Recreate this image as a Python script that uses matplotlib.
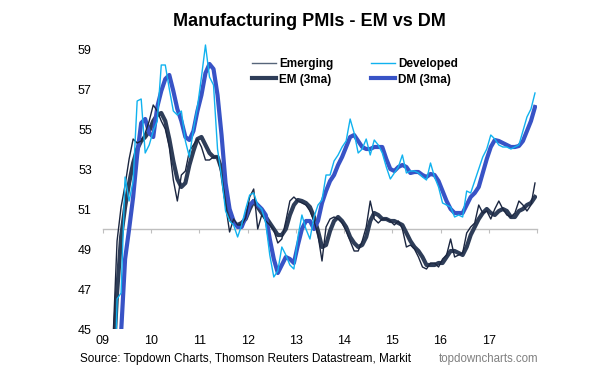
import numpy as np
import matplotlib
matplotlib.use("Agg")
import matplotlib.pyplot as plt

plt.rcParams['font.family'] = ['Liberation Sans', 'DejaVu Sans']

# monthly PMI readings, Jan 2009 - Dec 2017
em = [39.0, 41.0, 44.5, 49.4, 51.1, 52.2, 53.5, 54.5, 54.3, 54.4, 54.8, 55.4,
      56.2, 55.9, 55.4, 55.0, 54.1, 52.45, 51.4, 52.7, 52.9, 53.9, 54.2, 54.5,
      54.1, 53.45, 53.45, 53.6, 53.6, 52.7, 51.2, 49.85, 50.5, 50.2, 50.2, 50.55,
      51.6, 52.0, 50.0, 50.7, 50.4, 50.2, 49.95, 49.3, 49.5, 50.4, 51.4, 51.6,
      51.4, 51.3, 51.2, 50.9, 50.4, 49.7, 48.4, 50.1, 50.5, 50.6, 50.5, 50.3,
      49.9, 49.4, 48.9, 48.9, 49.4, 50.1, 51.4, 50.5, 50.3, 50.5, 50.5, 50.4,
      50.2, 50.4, 50.0, 49.1, 49.2, 49.0, 48.6, 48.1, 48.0, 48.3, 48.3, 48.1,
      48.5, 48.7, 49.5, 48.6, 48.7, 48.8, 49.8, 50.1, 50.3, 51.2, 50.8, 50.9,
      50.5, 51.0, 51.4, 51.0, 50.7, 50.6, 50.8, 51.4, 51.2, 50.9, 51.2, 52.3]

dm = [35.0, 36.5, 38.5, 46.5, 46.8, 52.6, 51.4, 52.4, 56.4, 56.5, 53.8, 54.2,
      54.9, 55.4, 58.2, 58.2, 57.0, 55.9, 55.7, 55.9, 54.4, 53.6, 55.0, 56.1,
      57.6, 59.2, 57.6, 57.2, 54.0, 52.6, 50.9, 50.4, 50.2, 49.6, 50.2, 51.0,
      51.7, 51.8, 51.2, 51.0, 50.3, 48.7, 47.6, 47.9, 49.1, 48.7, 48.2, 48.0,
      49.6, 50.7, 50.0, 49.5, 50.6, 51.2, 51.45, 52.7, 52.7, 53.4, 53.7, 54.1,
      54.4, 55.5, 54.8, 53.8, 54.0, 54.5, 53.7, 54.45, 54.2, 53.8, 53.1, 52.5,
      52.8, 53.1, 53.7, 52.8, 52.9, 52.9, 52.8, 52.6, 52.45, 53.3, 52.6, 52.1,
      51.3, 51.2, 51.1, 50.6, 50.7, 50.6, 51.9, 51.8, 52.4, 53.0, 53.6, 54.0,
      54.7, 54.5, 54.2, 54.1, 54.1, 54.0, 54.1, 54.2, 54.9, 55.6, 56.0, 56.8]

em3 = [37.5, 39.0, 43.0, 46.8, 49.6, 51.1, 52.3, 53.3, 54.0, 54.4, 54.6, 54.9,
       55.4, 55.7, 55.8, 55.4, 54.5, 53.4, 52.5, 52.1, 52.3, 53.2, 53.9, 54.5,
       54.6, 54.2, 53.8, 53.6, 53.6, 53.0, 51.6, 50.7, 50.3, 50.2, 50.3, 50.5,
       51.0, 51.4, 51.1, 50.8, 50.6, 50.3, 50.0, 49.7, 49.7, 50.0, 50.7, 51.2,
       51.45, 51.4, 51.3, 51.1, 50.6, 49.9, 49.1, 49.2, 49.9, 50.4, 50.6, 50.4,
       50.1, 49.6, 49.3, 49.1, 49.2, 49.6, 50.4, 50.8, 50.7, 50.5, 50.5, 50.4,
       50.4, 50.3, 50.2, 49.8, 49.4, 49.1, 48.9, 48.6, 48.2, 48.2, 48.2, 48.3,
       48.3, 48.6, 48.9, 48.9, 48.8, 48.7, 49.1, 49.7, 50.1, 50.5, 50.8, 51.0,
       50.8, 50.7, 50.9, 51.0, 50.9, 50.6, 50.6, 50.9, 51.0, 51.2, 51.3, 51.6]

dm3 = [34.0, 35.5, 37.0, 40.5, 44.8, 48.5, 50.0, 51.6, 53.7, 55.3, 55.5, 54.8,
       54.6, 56.1, 56.9, 57.5, 57.7, 56.9, 56.0, 55.4, 54.6, 54.45, 54.9, 55.9,
       56.7, 57.8, 58.25, 58.0, 56.7, 54.7, 52.3, 51.0, 50.4, 50.1, 50.1, 50.6,
       51.2, 51.4, 51.2, 51.0, 50.7, 49.5, 48.5, 47.8, 48.2, 48.6, 48.5, 48.3,
       49.2, 50.0, 50.4, 50.4, 50.0, 50.4, 51.3, 51.9, 52.4, 52.7, 53.2, 53.6,
       54.1, 54.6, 54.7, 54.4, 54.1, 54.0, 54.0, 54.1, 54.1, 54.1, 53.5, 53.0,
       52.9, 53.1, 53.2, 53.1, 52.8, 52.85, 52.85, 52.7, 52.6, 52.75, 52.7, 52.4,
       51.9, 51.4, 51.0, 50.8, 50.8, 50.8, 51.2, 51.6, 51.8, 52.1, 52.8, 53.5,
       54.1, 54.45, 54.4, 54.3, 54.2, 54.1, 54.1, 54.15, 54.4, 54.9, 55.4, 56.1]

years = list(range(2009, 2019))
year_labels = ['09', '10', '11', '12', '13', '14', '15', '16', '17', '']

t = 2009 + (np.arange(len(em)) + 0.5) / 12

fig = plt.figure(figsize=(5.96, 3.77), dpi=100)
ax = fig.add_axes([103/596, 48/377, 434/596, 300/377])

ax.plot(t, em3, color='#2e3d58', lw=3.0, label='EM (3ma)', zorder=3)
ax.plot(t, dm3, color='#3853c6', lw=3.0, label='DM (3ma)', zorder=3)
ax.plot(t, em, color='#1b2640', lw=1.0, label='Emerging', zorder=4)
ax.plot(t, dm, color='#10b2ef', lw=1.0, label='Developed', zorder=4)

ax.set_xlim(2009, 2018)
ax.set_ylim(45, 60)
ax.set_yticks(range(45, 60, 2))
ax.set_xticks(years)
ax.set_xticklabels(year_labels)

for s in ['left', 'top', 'right']:
    ax.spines[s].set_visible(False)
ax.spines['bottom'].set_position(('data', 50))
ax.spines['bottom'].set_color('#bfbfbf')
ax.spines['bottom'].set_linewidth(1)
ax.tick_params(axis='x', direction='out', length=3, color='#bfbfbf', pad=73, labelsize=9)
ax.tick_params(axis='y', length=0, pad=8, labelsize=9)

h = ax.get_legend_handles_labels()[0]
order = [2, 0, 3, 1]
leg = fig.legend([h[i] for i in order], ['Emerging', 'EM (3ma)', 'Developed', 'DM (3ma)'],
                 ncol=2, loc='upper left', bbox_to_anchor=(252/596, 1 - 58/377),
                 frameon=False, borderpad=0, borderaxespad=0, handlelength=2.0,
                 handletextpad=0.3, columnspacing=3.2, labelspacing=0.3,
                 prop={'weight': 'bold', 'size': 8.5})
leg.get_lines()[0].set_color('#56657a')

fig.text(0.52, 1 - 22/377, 'Manufacturing PMIs - EM vs DM', ha='center', va='center',
         fontsize=13, fontweight='bold')
fig.text(80/596, 1 - 359/377, 'Source: Topdown Charts, Thomson Reuters Datastream, Markit',
         ha='left', va='center', fontsize=8.5)
fig.text(538/596, 1 - 359/377, 'topdowncharts.com', ha='right', va='center',
         fontsize=8.3, color='#808080')

fig.savefig('out.png', dpi=100)
